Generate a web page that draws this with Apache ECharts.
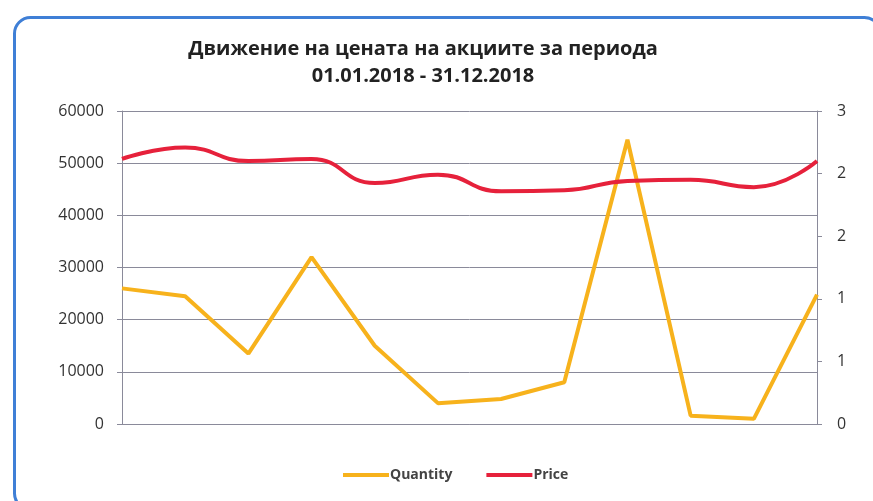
<!DOCTYPE html>
<html>
<head>
<meta charset="utf-8">
<script src="https://cdn.jsdelivr.net/npm/echarts@6/dist/echarts.min.js"></script>
<style>
html,body{margin:0;padding:0;background:#fff;}
#c{width:873px;height:501px;}
</style>
</head>
<body>
<div id="c"></div>
<script>
const titleLines = ['Движение на цената на акциите за периода', '01.01.2018 - 31.12.2018'];
const months = ['01.2018','02.2018','03.2018','04.2018','05.2018','06.2018','07.2018','08.2018','09.2018','10.2018','11.2018','12.2018'];
const quantity = [26000, 24500, 13500, 32000, 15000, 4000, 4800, 8000, 54500, 1600, 1000, 24800];
const price = [2.54, 2.65, 2.52, 2.54, 2.31, 2.39, 2.23, 2.24, 2.33, 2.34, 2.27, 2.52];
const seriesNames = ['Quantity', 'Price'];

const chart = echarts.init(document.getElementById('c'));
const FONT = 'Open Sans';
chart.setOption({
  backgroundColor: '#ffffff',
  animation: false,
  title: {
    text: titleLines.join('\n'),
    left: 418, top: 31, textAlign: 'center',
    textStyle: {fontFamily: FONT, fontWeight: 'bold', fontSize: 20, lineHeight: 27, color: '#222'}
  },
  graphic: [{
    type: 'rect', left: 12, top: 15, silent: true,
    shape: {width: 866, height: 492, r: 16},
    style: {fill: 'none', stroke: '#3f7fd6', lineWidth: 3}
  }],
  legend: {
    bottom: 14, left: 338, itemGap: 34, itemWidth: 46, itemHeight: 4,
    icon: 'rect',
    textStyle: {fontFamily: FONT, fontSize: 14, fontWeight: 'bold', color: '#444', padding: [0,0,0,-4]},
    data: seriesNames
  },
  grid: {left: 122, right: 56, top: 111, bottom: 77},
  xAxis: {
    type: 'category', data: months, boundaryGap: false,
    axisLine: {lineStyle: {color: '#8a8a9a', width: 1}},
    axisTick: {show: false}, axisLabel: {show: false}
  },
  yAxis: [{
    type: 'value', min: 0, max: 60000, interval: 10000,
    axisLine: {show: true, lineStyle: {color: '#8a8a9a'}},
    axisTick: {show: true, length: 5, lineStyle: {color: '#8a8a9a'}},
    axisLabel: {fontFamily: FONT, fontSize: 16, color: '#333', margin: 18,
      formatter: v => String(v)},
    splitLine: {lineStyle: {color: '#8a8a9a', width: 1}}
  }, {
    type: 'value', min: 0, max: 3, interval: 0.6,
    axisLine: {show: true, lineStyle: {color: '#8a8a9a'}},
    axisTick: {show: true, length: 5, lineStyle: {color: '#8a8a9a'}},
    axisLabel: {fontFamily: FONT, fontSize: 16, color: '#333', margin: 20,
      formatter: v => String(Math.round(v))},
    splitLine: {show: false}
  }],
  series: [{
    name: seriesNames[0], type: 'line', data: quantity, yAxisIndex: 0,
    showSymbol: false, symbol: 'none',
    lineStyle: {color: '#f7b21c', width: 4}, itemStyle: {color: '#f7b21c'}
  }, {
    name: seriesNames[1], type: 'line', data: price, yAxisIndex: 1,
    showSymbol: false, symbol: 'none', smooth: 0.5,
    lineStyle: {color: '#e6213b', width: 4}, itemStyle: {color: '#e6213b'}
  }]
});
</script>
</body>
</html>
